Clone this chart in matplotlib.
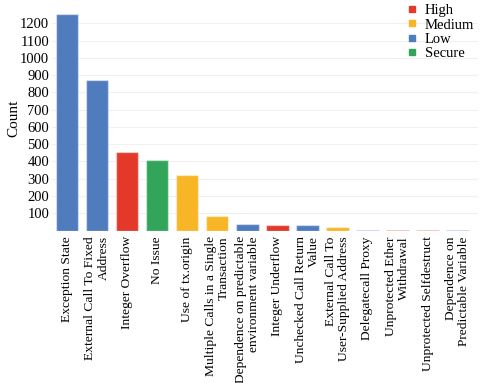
import matplotlib
matplotlib.use("Agg")
import matplotlib.pyplot as plt
import numpy as np
from matplotlib.lines import Line2D

plt.rcParams['font.family'] = ['Liberation Serif', 'DejaVu Serif']

# data
labels = ['Exception State', 'External Call To Fixed\nAddress', 'Integer Overflow',
          'No Issue', 'Use of tx.origin', 'Multiple Calls in a Single\nTransaction',
          'Dependence on predictable\nenvironment variable', 'Integer Underflow',
          'Unchecked Call Return\nValue', 'External Call To\nUser-Supplied Address',
          'Delegatecall Proxy', 'Unprotected Ether\nWithdrawal',
          'Unprotected Selfdestruct', 'Dependence on\nPredictable Variable']
counts = [1252, 870, 453, 409, 322, 83, 38, 34, 32, 23, 5, 4, 4, 3]
severity = ['Low', 'Low', 'High', 'Secure', 'Medium', 'Medium', 'Low', 'High',
            'Low', 'Medium', 'Low', 'High', 'High', 'Low']
levels = ['High', 'Medium', 'Low', 'Secure']

palette = {'High': '#e2392b', 'Medium': '#f8b525', 'Low': '#4f7cbc', 'Secure': '#33a55b'}

fig = plt.figure(figsize=(4.8, 3.83), dpi=100)
ax = fig.add_axes([52 / 480, 1 - 230.6 / 383, 426 / 480, 224.6 / 383])

x = np.arange(len(labels))
cols = [palette[s] for s in severity]
ax.bar(x, counts, width=0.75, color=cols, edgecolor=(1, 1, 1, 0.45), linewidth=1.0, zorder=2)

ax.set_xlim(-0.5, 13.68)
ax.set_ylim(0, 1300)
ax.set_yticks(range(100, 1300, 100))
ax.yaxis.grid(True, color='#f0f0f0', linewidth=0.8, zorder=0)
ax.set_axisbelow(True)
ax.tick_params(axis='y', length=0, labelsize=10.5, pad=2)
ax.tick_params(axis='x', length=0, labelsize=9.7, pad=4)
ax.set_xticks(x)
ax.set_xticklabels(labels, rotation=90, ha='center', va='top', multialignment='right',
                   linespacing=1.15)
for s in ax.spines.values():
    s.set_visible(False)
ax.set_ylabel('Count', fontsize=11)
ax.yaxis.set_label_coords(-0.075, 0.5)

handles = [Line2D([], [], marker='s', linestyle='', color=palette[l], markersize=4) for l in levels]
ax.legend(handles, levels, loc='upper right', bbox_to_anchor=(1.005, 1.035), frameon=False,
          fontsize=10.5, handlelength=0.6, handletextpad=0.6, labelspacing=0.08, borderaxespad=0)

fig.savefig('out.png', dpi=100)
